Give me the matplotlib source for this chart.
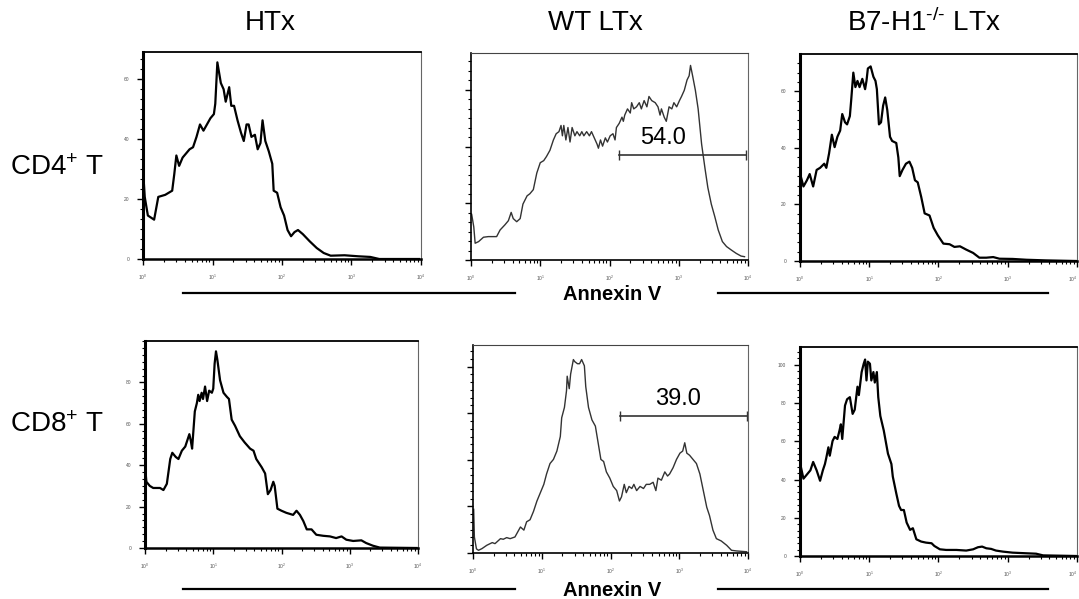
import numpy as np
import matplotlib.pyplot as plt
from matplotlib.lines import Line2D
from matplotlib.ticker import MultipleLocator, AutoMinorLocator, FixedLocator

plt.rcParams.update({
    'font.family': ['Liberation Sans', 'DejaVu Sans'],
    'mathtext.fontset': 'custom',
    'mathtext.rm': 'Liberation Sans',
    'mathtext.it': 'Liberation Sans:italic',
    'mathtext.bf': 'Liberation Sans:bold',
})

col_titles = ['HTx', 'WT LTx', r'B7-H1$^{\text{-/-}}$ LTx']
row_labels = [r'CD4$^{+}$ T', r'CD8$^{+}$ T']
axis_label = 'Annexin V'

# x in log decades (10^0 .. 10^4), y in % of panel height
htx_cd4_x = [0.01, 0.025, 0.07, 0.16, 0.22, 0.32, 0.42, 0.45, 0.48, 0.52, 0.57, 0.67, 0.72, 0.77, 0.82,
             0.87, 0.92, 0.97, 1.02, 1.04, 1.07, 1.12, 1.16, 1.19, 1.24, 1.27, 1.31, 1.36, 1.41, 1.45,
             1.49, 1.52, 1.56, 1.61, 1.65, 1.69, 1.72, 1.76, 1.81, 1.86, 1.88, 1.93, 1.98, 2.03, 2.08,
             2.13, 2.18, 2.23, 2.30, 2.40, 2.50, 2.60, 2.70, 2.90, 3.10, 3.27, 3.40, 3.97]
htx_cd4_y = [38, 30, 21, 19, 30, 31, 33, 41, 50, 45, 49, 53, 54, 59, 65,
             62, 65, 68, 70, 75, 95, 85, 82, 76, 83, 74, 74, 67, 61, 57,
             65, 65, 59, 60, 53, 56, 67, 57, 52, 46, 33, 32, 25, 21, 14,
             11, 13, 14, 12, 8.5, 5.3, 2.9, 1.6, 1.8, 1.3, 1.0, 0, 0]

wt_cd4_x = [0.01, 0.04, 0.06, 0.11, 0.18, 0.25, 0.37, 0.42, 0.49, 0.54, 0.58, 0.61, 0.66, 0.71, 0.75,
            0.81, 0.85, 0.90, 0.95, 1.00, 1.05, 1.09, 1.14, 1.19, 1.23, 1.27, 1.30, 1.32, 1.34, 1.37,
            1.40, 1.43, 1.46, 1.50, 1.53, 1.57, 1.60, 1.63, 1.67, 1.71, 1.74, 1.78, 1.82, 1.84, 1.87,
            1.90, 1.94, 1.97, 2.01, 2.05, 2.08, 2.10, 2.14, 2.18, 2.20, 2.22, 2.26, 2.30, 2.32, 2.35,
            2.39, 2.43, 2.46, 2.50, 2.54, 2.57, 2.61, 2.66, 2.70, 2.73, 2.75, 2.79, 2.82, 2.86, 2.90,
            2.93, 2.97, 3.01, 3.04, 3.08, 3.12, 3.15, 3.17, 3.20, 3.24, 3.28, 3.33, 3.38, 3.42, 3.47,
            3.52, 3.57, 3.63, 3.69, 3.76, 3.83, 3.90, 3.95]
wt_cd4_y = [22, 16, 8.1, 8.9, 11, 11.3, 11.3, 14.5, 17, 19, 23, 20, 18.5, 20, 27,
            31, 32, 34, 42, 47, 48, 50, 53, 58, 61, 62, 65, 60, 65, 58,
            64, 57, 64, 60, 62, 60, 62, 60, 62, 60, 62, 59, 56, 54, 58,
            55, 59, 57, 60, 61, 58, 64, 66, 69, 67, 70, 73, 71, 76, 73,
            74, 76, 73, 77, 74, 79, 77, 76, 74, 70, 73, 69, 67, 74, 73,
            76, 74, 77, 79, 82, 87, 89, 94, 89, 82, 73, 56, 44, 35, 27,
            21, 14.5, 8.9, 6.5, 4.8, 3.2, 1.9, 1.6]

b7_cd4_x = [0.01, 0.05, 0.10, 0.14, 0.19, 0.24, 0.29, 0.35, 0.38, 0.42, 0.46, 0.50, 0.54, 0.58, 0.61,
            0.65, 0.68, 0.72, 0.74, 0.77, 0.80, 0.83, 0.86, 0.90, 0.94, 0.96, 0.98, 1.02, 1.06, 1.09,
            1.11, 1.14, 1.17, 1.20, 1.23, 1.26, 1.30, 1.33, 1.39, 1.42, 1.44, 1.48, 1.53, 1.58, 1.62,
            1.66, 1.70, 1.75, 1.80, 1.87, 1.93, 1.99, 2.07, 2.16, 2.23, 2.31, 2.40, 2.50, 2.59, 2.69,
            2.79, 2.88, 3.07, 3.27, 3.55, 3.99]
b7_cd4_y = [41, 36, 39, 42, 36, 44, 45, 47, 45, 52, 61, 55, 60, 63, 71,
            67, 66, 70, 78, 91, 84, 87, 84, 88, 83, 87, 93, 94, 89, 87,
            83, 66, 67, 75, 79, 73, 60, 58, 57, 50, 41, 44, 47, 48, 45,
            39, 38, 31, 23, 22, 16, 12.4, 8.4, 8.1, 6.8, 7.1, 5.5, 3.9, 1.6, 1.6,
            1.9, 1.1, 1.0, 0.6, 0.3, 0]

htx_cd8_x = [0.01, 0.02, 0.07, 0.12, 0.22, 0.27, 0.32, 0.37, 0.40, 0.45, 0.49, 0.54, 0.59, 0.62, 0.65,
             0.67, 0.69, 0.71, 0.73, 0.76, 0.78, 0.80, 0.83, 0.85, 0.88, 0.91, 0.94, 0.98, 1.00, 1.02,
             1.04, 1.06, 1.10, 1.15, 1.20, 1.23, 1.27, 1.32, 1.39, 1.46, 1.54, 1.59, 1.63, 1.71, 1.76,
             1.78, 1.80, 1.84, 1.88, 1.90, 1.94, 2.00, 2.07, 2.17, 2.22, 2.27, 2.32, 2.37, 2.44, 2.51,
             2.61, 2.71, 2.80, 2.88, 2.95, 3.05, 3.17, 3.24, 3.34, 3.44, 3.98]
htx_cd8_y = [36, 32, 30, 29, 29, 28, 31, 43, 46, 44, 43, 47, 49, 52, 55,
             52, 48, 57, 66, 70, 74, 71, 75, 72, 78, 71, 76, 75, 77, 89,
             95, 91, 81, 75, 73, 72, 62, 59, 54, 51, 48, 47, 43, 39, 36,
             31, 26, 28, 32, 30, 19, 18, 17, 16, 18, 16, 13, 9, 9, 6.4,
             5.9, 5.6, 4.8, 5.6, 4.0, 3.4, 3.7, 2.4, 1.1, 0.2, 0]

wt_cd8_x = [0.01, 0.02, 0.05, 0.08, 0.13, 0.20, 0.28, 0.32, 0.40, 0.44, 0.49, 0.54, 0.61, 0.69, 0.74,
            0.78, 0.83, 0.88, 0.93, 0.98, 1.03, 1.07, 1.12, 1.17, 1.22, 1.27, 1.29, 1.33, 1.36, 1.37,
            1.40, 1.42, 1.46, 1.48, 1.52, 1.55, 1.58, 1.62, 1.64, 1.68, 1.73, 1.78, 1.82, 1.86, 1.90,
            1.94, 1.99, 2.04, 2.09, 2.13, 2.16, 2.20, 2.23, 2.27, 2.31, 2.34, 2.38, 2.43, 2.48, 2.52,
            2.57, 2.62, 2.66, 2.69, 2.74, 2.79, 2.83, 2.86, 2.91, 2.96, 3.01, 3.05, 3.08, 3.11, 3.15,
            3.20, 3.25, 3.30, 3.35, 3.40, 3.44, 3.49, 3.54, 3.61, 3.69, 3.76, 3.83, 3.98]
wt_cd8_y = [21, 7.7, 2, 1.3, 2.1, 3.7, 5, 4.5, 6.9, 6.6, 7.4, 6.9, 7.7, 12.5, 11,
            15, 16, 20, 25, 29, 33, 38, 43, 45, 49, 56, 65, 70, 78, 85,
            79, 86, 93, 92, 91, 91, 93, 90, 80, 70, 64, 61, 53, 45, 44,
            39, 36, 32, 30, 25, 27, 33, 29, 32, 31, 33, 30, 32, 31, 33,
            33, 34, 30, 36, 35, 39, 37, 38, 41, 45, 48, 49, 53, 48, 47,
            45, 43, 38, 30, 22, 18, 11, 6.9, 5.8, 3.7, 1.3, 1.0, 0.6]

b7_cd8_x = [0.01, 0.05, 0.10, 0.15, 0.19, 0.24, 0.29, 0.33, 0.36, 0.38, 0.41, 0.43, 0.47, 0.50, 0.54,
            0.57, 0.59, 0.61, 0.65, 0.68, 0.72, 0.76, 0.79, 0.83, 0.85, 0.89, 0.92, 0.94, 0.96, 0.98,
            1.01, 1.03, 1.06, 1.08, 1.11, 1.13, 1.16, 1.21, 1.27, 1.32, 1.34, 1.39, 1.43, 1.46, 1.50,
            1.54, 1.59, 1.63, 1.68, 1.75, 1.82, 1.90, 1.94, 2.02, 2.11, 2.26, 2.40, 2.50, 2.57, 2.63,
            2.69, 2.76, 2.83, 2.93, 3.07, 3.27, 3.41, 3.51, 3.99]
b7_cd8_y = [43, 37, 39, 41, 45, 41, 36, 41, 44, 47, 52, 48, 55, 57, 56,
            60, 63, 56, 72, 75, 76, 68, 70, 81, 77, 88, 92, 94, 84, 93,
            92, 84, 88, 83, 88, 76, 67, 60, 49, 44, 38, 30, 24, 22, 22,
            16, 12.5, 13.3, 8, 6.9, 6.4, 6.1, 4.8, 3.2, 2.9, 2.9, 2.6, 3.2, 4.2, 4.5,
            3.7, 3.4, 2.6, 2.1, 1.6, 1.3, 1.1, 0.3, 0]

# marker gates on the WT LTx panels
gate_lo = [2.13, 2.14]
gate_hi = [3.97, 3.99]
gate_y = [50.5, 65.8]
gate_pct = ['54.0', '39.0']
gate_text_x = [2.78, 2.98]

series = [[(htx_cd4_x, htx_cd4_y), (wt_cd4_x, wt_cd4_y), (b7_cd4_x, b7_cd4_y)],
          [(htx_cd8_x, htx_cd8_y), (wt_cd8_x, wt_cd8_y), (b7_cd8_x, b7_cd8_y)]]

W, H = 1079, 599
# panel boxes in pixels: left, top, right, bottom
panel_px = [[(143, 52, 421, 259), (471, 53, 748, 260), (800, 54, 1077, 261)],
            [(145, 341, 418, 548), (473, 345, 748, 553), (800, 347, 1077, 556)]]
ytick_step = [[29, 27.4, 27.3], [20, 22.4, 18.3]]


def px_rect(l, t, r, b):
    return [l / W, 1 - b / H, (r - l) / W, (b - t) / H]


fig = plt.figure(figsize=(W / 100, H / 100), dpi=100)

for i in range(2):
    for j in range(3):
        ax = fig.add_axes(px_rect(*panel_px[i][j]))
        x, y = series[i][j]
        wt = (j == 1)
        ax.plot(x, y, color='#333333' if wt else 'black', lw=1.0 if wt else 1.6)
        ax.set_xlim(0, 4)
        ax.set_ylim(0, 100)

        ax.set_xticks(range(5), labels=[r'$10^{%d}$' % k for k in range(5)])
        ax.xaxis.set_minor_locator(FixedLocator([n + np.log10(k) for n in range(4) for k in range(2, 10)]))
        step = ytick_step[i][j]
        ax.yaxis.set_major_locator(MultipleLocator(step))
        ax.yaxis.set_minor_locator(AutoMinorLocator(6))
        ax.set_yticklabels([])
        if not wt:
            yt = np.arange(0, 100, step)
            ax.set_yticks(yt, labels=[str(int(k * 20)) for k in range(len(yt))])
        ax.tick_params(which='major', direction='out', length=4, width=1.0, labelsize=3.5,
                       labelcolor='#555555', pad=6)
        ax.tick_params(which='minor', direction='out', length=2.5, width=0.8)
        if j == 2:
            ax.get_xticklabels()[-1].set_horizontalalignment('right')

        ax.spines['left'].set_linewidth(1.2 if wt else 2.2)
        ax.spines['bottom'].set_linewidth(1.2 if wt else 1.8)
        ax.spines['top'].set_linewidth(0.8 if wt else 1.3)
        ax.spines['right'].set_linewidth(0.8)
        ax.spines['top'].set_color('#444444' if wt else 'black')
        ax.spines['right'].set_color('#666666')

        if wt:
            ax.plot([gate_lo[i], gate_hi[i]], [gate_y[i], gate_y[i]], color='#333333', lw=1.2,
                    marker='|', markersize=7, markeredgewidth=1.0, clip_on=False)
            ax.text(gate_text_x[i], gate_y[i] + 3, gate_pct[i],
                    ha='center', va='bottom', fontsize=17)

for j, t in enumerate(col_titles):
    fig.text([270, 595, 924][j] / W, 1 - 23 / H, t, ha='center', va='center', fontsize=20)

for i, t in enumerate(row_labels):
    fig.text(57 / W, 1 - [168, 425][i] / H, t, ha='center', va='center', fontsize=20)

for yl in [293, 589]:
    fig.add_artist(Line2D([183 / W, 515 / W], [1 - yl / H] * 2, color='black', lw=1.6))
    fig.add_artist(Line2D([718 / W, 1048 / W], [1 - yl / H] * 2, color='black', lw=1.6))
    fig.text(612 / W, 1 - (yl + 2) / H, axis_label, ha='center', va='center',
             fontsize=14.5, fontweight='bold')

fig.savefig('out.png', dpi=100)
